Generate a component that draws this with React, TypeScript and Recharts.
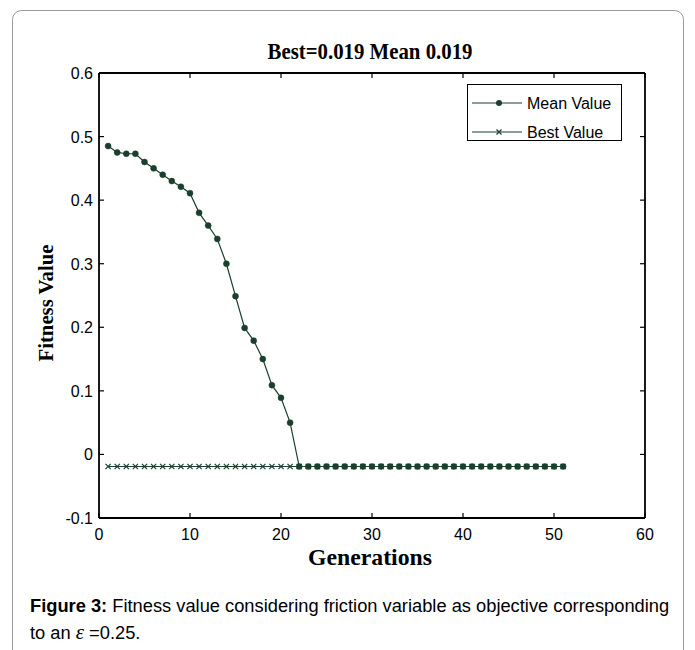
import { LineChart, Line, XAxis, YAxis, Legend } from "recharts";

const generations = [
  1, 2, 3, 4, 5, 6, 7, 8, 9, 10, 11, 12, 13, 14, 15, 16, 17, 18, 19, 20,
  21, 22, 23, 24, 25, 26, 27, 28, 29, 30, 31, 32, 33, 34, 35, 36, 37, 38, 39, 40,
  41, 42, 43, 44, 45, 46, 47, 48, 49, 50, 51,
];

const meanValue = [
  0.485, 0.475, 0.473, 0.473, 0.46, 0.45, 0.44, 0.43, 0.421, 0.411,
  0.38, 0.36, 0.339, 0.3, 0.249, 0.199, 0.179, 0.15, 0.109, 0.089,
  0.05, -0.019, -0.019, -0.019, -0.019, -0.019, -0.019, -0.019, -0.019, -0.019,
  -0.019, -0.019, -0.019, -0.019, -0.019, -0.019, -0.019, -0.019, -0.019, -0.019,
  -0.019, -0.019, -0.019, -0.019, -0.019, -0.019, -0.019, -0.019, -0.019, -0.019,
  -0.019,
];

const bestValue = [
  -0.019, -0.019, -0.019, -0.019, -0.019, -0.019, -0.019, -0.019, -0.019, -0.019,
  -0.019, -0.019, -0.019, -0.019, -0.019, -0.019, -0.019, -0.019, -0.019, -0.019,
  -0.019, -0.019, -0.019, -0.019, -0.019, -0.019, -0.019, -0.019, -0.019, -0.019,
  -0.019, -0.019, -0.019, -0.019, -0.019, -0.019, -0.019, -0.019, -0.019, -0.019,
  -0.019, -0.019, -0.019, -0.019, -0.019, -0.019, -0.019, -0.019, -0.019, -0.019,
  -0.019,
];

const xTicks = [0, 10, 20, 30, 40, 50, 60];
const yTicks = [-0.1, 0, 0.1, 0.2, 0.3, 0.4, 0.5, 0.6];

const data = generations.map((g, i) => ({ gen: g, mean: meanValue[i], best: bestValue[i] }));

const GREEN = "#1a3f2c";
const SANS = "'Liberation Sans', Arial, sans-serif";
const SERIF = "'Liberation Serif', 'Times New Roman', serif";

const BottomTick = (props: any) => {
  const { x, y, payload } = props;
  return (
    <g>
      <line x1={x} y1={y} x2={x} y2={y - 5} stroke="#000" strokeWidth={1.2} />
      <text x={x} y={y + 22} textAnchor="middle" fontSize={16} fontFamily={SANS} fill="#000">
        {payload.value}
      </text>
    </g>
  );
};

const LeftTick = (props: any) => {
  const { x, y, payload } = props;
  return (
    <g>
      <line x1={x} y1={y} x2={x + 5} y2={y} stroke="#000" strokeWidth={1.2} />
      <text x={x - 6} y={y + 6} textAnchor="end" fontSize={16} fontFamily={SANS} fill="#000">
        {payload.value}
      </text>
    </g>
  );
};

const TopTick = (props: any) => {
  const { x, y } = props;
  return <line x1={x} y1={y} x2={x} y2={y + 5} stroke="#000" strokeWidth={1.2} />;
};

const RightTick = (props: any) => {
  const { x, y } = props;
  return <line x1={x} y1={y} x2={x - 5} y2={y} stroke="#000" strokeWidth={1.2} />;
};

const CrossDot = (props: any) => {
  const { cx, cy, index } = props;
  return (
    <path
      key={`x-${index}`}
      d={`M${cx - 2.6},${cy - 2.6}L${cx + 2.6},${cy + 2.6}M${cx - 2.6},${cy + 2.6}L${cx + 2.6},${cy - 2.6}`}
      stroke={GREEN}
      strokeWidth={1.2}
      fill="none"
    />
  );
};

const LegendBox = () => (
  <svg width={155} height={57} style={{ display: "block" }}>
    <rect x={0.5} y={0.5} width={154} height={56} fill="#fff" stroke="#000" strokeWidth={1} />
    <line x1={5} y1={19} x2={55} y2={19} stroke={GREEN} strokeWidth={1.2} />
    <circle cx={32} cy={19} r={3} fill={GREEN} />
    <text x={60} y={25} fontSize={16} fontFamily={SANS} fill="#000">Mean Value</text>
    <line x1={5} y1={48} x2={55} y2={48} stroke={GREEN} strokeWidth={1.2} />
    <path d="M29.5,45.5L34.5,50.5M29.5,50.5L34.5,45.5" stroke={GREEN} strokeWidth={1.2} />
    <text x={60} y={54} fontSize={16} fontFamily={SANS} fill="#000">Best Value</text>
  </svg>
);

export default function App() {
  return (
    <div style={{ position: "absolute", left: 0, top: 0, width: 695, height: 650, background: "#fff", overflow: "hidden" }}>
      <LineChart
        width={695}
        height={650}
        data={data}
        margin={{ top: 53, right: 30, bottom: 102, left: 59 }}
      >
        <XAxis
          xAxisId="bottom"
          dataKey="gen"
          type="number"
          domain={[0, 60]}
          ticks={xTicks}
          height={30}
          tickSize={0}
          tickMargin={0}
          tickLine={false}
          tick={BottomTick}
          axisLine={{ stroke: "#000", strokeWidth: 1.8 }}
          interval={0}
        />
        <XAxis
          xAxisId="top"
          orientation="top"
          dataKey="gen"
          type="number"
          domain={[0, 60]}
          ticks={xTicks}
          height={20}
          tickSize={0}
          tickMargin={0}
          tickLine={false}
          tick={TopTick}
          axisLine={{ stroke: "#000", strokeWidth: 1.8 }}
          interval={0}
        />
        <YAxis
          yAxisId="left"
          type="number"
          domain={[-0.1, 0.6]}
          ticks={yTicks}
          width={40}
          tickSize={0}
          tickMargin={0}
          tickLine={false}
          tick={LeftTick}
          axisLine={{ stroke: "#000", strokeWidth: 1.8 }}
          allowDataOverflow
          interval={0}
        />
        <YAxis
          yAxisId="right"
          orientation="right"
          type="number"
          domain={[-0.1, 0.6]}
          ticks={yTicks}
          width={20}
          tickSize={0}
          tickMargin={0}
          tickLine={false}
          tick={RightTick}
          axisLine={{ stroke: "#000", strokeWidth: 1.8 }}
          allowDataOverflow
          interval={0}
        />
        <Legend
          layout="vertical"
          align="center"
          verticalAlign="middle"
          content={LegendBox}
          wrapperStyle={{ position: "absolute", left: 467, top: 84, width: 155, height: 57 }}
        />
        <Line
          xAxisId="bottom"
          yAxisId="left"
          dataKey="best"
          name="Best Value"
          stroke={GREEN}
          strokeWidth={1.2}
          dot={CrossDot}
          isAnimationActive={false}
        />
        <Line
          xAxisId="bottom"
          yAxisId="left"
          dataKey="mean"
          name="Mean Value"
          stroke={GREEN}
          strokeWidth={1.2}
          dot={{ r: 3, fill: GREEN, stroke: GREEN, strokeWidth: 0.5 }}
          isAnimationActive={false}
        />
      </LineChart>
      <svg
        width={695}
        height={650}
        style={{ position: "absolute", left: 0, top: 0, pointerEvents: "none" }}
      >
        <rect x={12.5} y={10.5} width={671} height={700} rx={9} fill="none" stroke="#9a9a9a" strokeWidth={1} />
        <text
          x={370}
          y={59}
          textAnchor="middle"
          fontFamily={SERIF}
          fontWeight="bold"
          fontSize={23}
          textLength={205}
          lengthAdjust="spacingAndGlyphs"
          fill="#000"
        >
          Best=0.019 Mean 0.019
        </text>
        <text
          transform="translate(53,303) rotate(-90)"
          x={0}
          y={0}
          textAnchor="middle"
          fontFamily={SERIF}
          fontWeight="bold"
          fontSize={22}
          textLength={117}
          lengthAdjust="spacingAndGlyphs"
          fill="#000"
        >
          Fitness Value
        </text>
        <text
          x={370}
          y={565}
          textAnchor="middle"
          fontFamily={SERIF}
          fontWeight="bold"
          fontSize={24}
          textLength={124}
          lengthAdjust="spacingAndGlyphs"
          fill="#000"
        >
          Generations
        </text>
        <text x={30} y={612} fontFamily={SANS} fontSize={18.3} fill="#000">
          <tspan fontWeight="bold">Figure 3:</tspan> Fitness value considering friction variable as objective corresponding
        </text>
        <text x={30} y={639} fontFamily={SANS} fontSize={18.3} fill="#000">
          to an  <tspan fontFamily={SERIF} fontStyle="italic" fontSize={21}>ε</tspan> =0.25.
        </text>
      </svg>
    </div>
  );
}
